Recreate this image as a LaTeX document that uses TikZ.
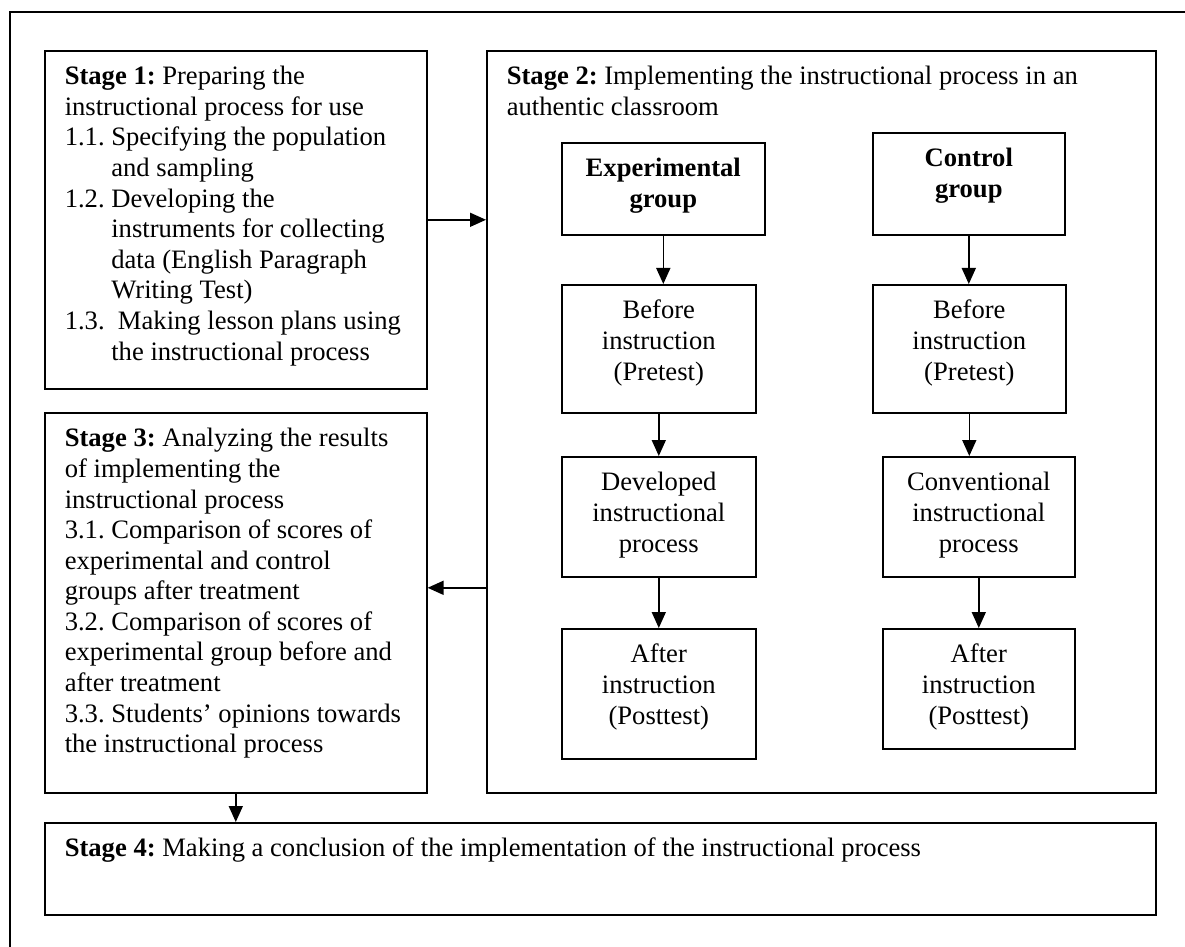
\documentclass[tikz,border=0pt]{standalone}
\usepackage{fontspec}
\setmainfont{Liberation Serif}
\usetikzlibrary{arrows.meta}
\frenchspacing
\hyphenpenalty=10000
\exhyphenpenalty=10000

\begin{document}
\begin{tikzpicture}[x=0.5pt, y=-0.5pt,
	font=\fontsize{13.3}{15.3}\selectfont,
	execute at begin node={\spaceskip=0pt\relax},
	stage/.style 2 args={draw, line width=.8pt, anchor=north west, align=left,
		text width=#1, text height=11pt, text depth=#2, inner xsep=10pt, inner ysep=6pt},
	grp/.style 2 args={draw, line width=.8pt, anchor=north west, align=center,
		text width=#1, text height=11pt, text depth=#2, inner xsep=4pt, inner ysep=6pt},
	arr/.style={-{Triangle[length=8pt,width=7pt]}, line width=.8pt}]
	\useasboundingbox (0,0) rectangle (1185,947);
	\draw[line width=1.2pt] (10,947) -- (10,12) -- (1185,12);
	% stages
	\node[stage={171pt}{146pt}] (s1) at (44,50) {\textbf{Stage 1:} Preparing the\\
		instructional process for use\\
		1.1. Specifying the population\\
		\phantom{1.1.\ }and sampling\\
		1.2. Developing the\\
		\phantom{1.2.\ }instruments for collecting\\
		\phantom{1.2.\ }data (English Paragraph\\
		\phantom{1.2.\ }Writing Test)\\
		1.3.\ \ Making lesson plans using\\
		\phantom{1.3.\ }the instructional process};
	\node[stage={314.5pt}{348pt}] (s2) at (486,50) {\textbf{Stage 2:} Implementing the instructional process in an\\
		authentic classroom};
	\node[stage={171pt}{167pt}] (s3) at (44,412) {\textbf{Stage 3:} Analyzing the results\\
		of implementing the\\
		instructional process\\
		3.1. Comparison of scores of\\
		experimental and control\\
		groups after treatment\\
		3.2. Comparison of scores of\\
		experimental group before and\\
		after treatment\\
		3.3. Students’ opinions towards\\
		the instructional process};
	\node[stage={535.5pt}{23pt}] (s4) at (44,822) {\textbf{Stage 4:} Making a conclusion of the implementation of the instructional process};
	% experimental group
	\node[grp={93.5pt}{23pt}] (exp) at (561,142) {\textbf{Experimental}\\ \textbf{group}};
	\node[grp={89pt}{41pt}] (preE) at (561,284) {Before\\ instruction\\ (Pretest)};
	\node[grp={89pt}{37pt}] (devE) at (561,456) {Developed\\ instructional\\ process};
	\node[grp={89pt}{42pt}] (postE) at (561,628) {After\\ instruction\\ (Posttest)};
	% control group
	\node[grp={88pt}{28pt}] (ctl) at (872,132) {\textbf{Control}\\ \textbf{group}};
	\node[grp={88.5pt}{41pt}] (preC) at (872,284) {Before\\ instruction\\ (Pretest)};
	\node[grp={88pt}{37pt}] (conC) at (882,456) {Conventional\\ instructional\\ process};
	\node[grp={88pt}{37pt}] (postC) at (882,628) {After\\ instruction\\ (Posttest)};
	% arrows
	\draw[arr] (s1.east) -- (s1.east -| s2.west);
	\coordinate (back) at ([yshift=7.5pt]s3.east);
	\draw[arr] (back -| s2.west) -- (back);
	\draw[arr] (s3.south) -- (s3.south |- s4.north);
	\draw[arr] (exp.south) -- (exp.south |- preE.north);
	\draw[arr] (preE.south) -- (preE.south |- devE.north);
	\draw[arr] (devE.south) -- (devE.south |- postE.north);
	\draw[arr] (ctl.south) -- (ctl.south |- preC.north);
	\draw[arr] (preC.south) -- (preC.south |- conC.north);
	\draw[arr] (conC.south) -- (conC.south |- postC.north);
\end{tikzpicture}
\end{document}
